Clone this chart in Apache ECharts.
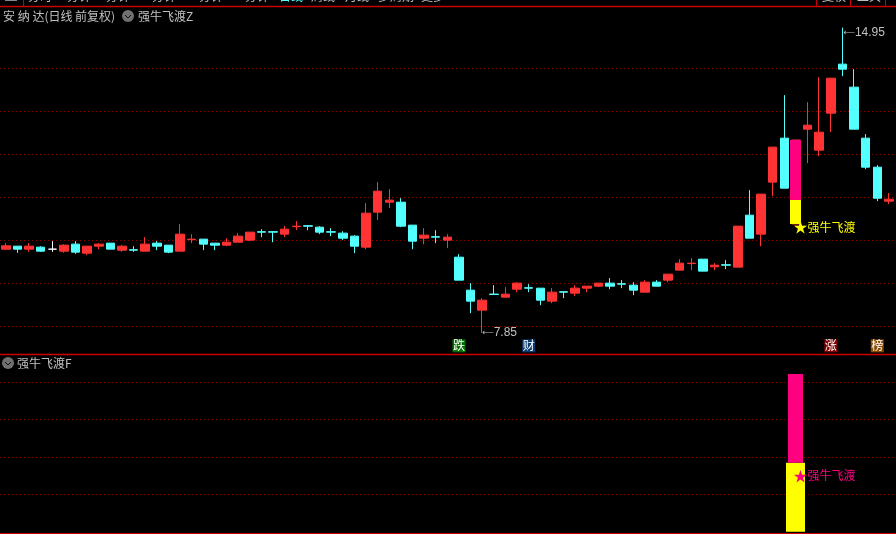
<!DOCTYPE html>
<html><head><meta charset="utf-8">
<style>html,body{margin:0;padding:0;background:#000}#c{width:896px;height:534px}</style>
<script src="https://cdn.jsdelivr.net/npm/echarts@6/dist/echarts.min.js"></script>
</head><body><div id="c"></div>
<script>
const opens = [9.798,9.868,9.798,9.845,9.798,9.752,9.915,9.705,9.868,9.938,9.775,9.785,9.752,9.938,9.891,9.752,10.021,10.031,9.938,9.891,9.961,10.008,10.204,10.204,10.147,10.323,
10.343,10.310,10.204,10.171,10.101,9.845,10.659,10.891,10.891,10.357,10.054,10.088,10.008,9.612,8.845,8.380,8.754,8.682,8.868,8.901,8.891,8.589,8.808,8.775,8.891,8.938,
9.008,8.994,8.961,8.798,9.031,9.078,9.310,9.463,9.566,9.388,9.436,9.380,10.589,10.147,11.357,12.380,10.384,12.589,12.101,12.961,14.101,13.566,12.380,11.705,10.915];
const closes = [9.876,9.798,9.868,9.752,9.798,9.891,9.729,9.868,9.915,9.798,9.868,9.775,9.915,9.868,9.729,10.147,10.031,9.915,9.891,9.961,10.101,10.194,10.194,10.194,10.264,10.333,
10.333,10.194,10.194,10.054,9.868,10.636,11.147,10.938,10.333,9.984,10.124,10.078,10.078,9.078,8.589,8.612,8.744,8.752,9.008,8.891,8.612,8.798,8.798,8.891,8.938,9.008,
8.938,8.984,8.845,9.031,8.938,9.217,9.473,9.473,9.287,9.426,9.426,10.333,10.054,11.078,12.171,11.217,12.337,12.682,12.519,13.775,13.984,12.589,11.705,10.984,10.961];
const lows = [9.775,9.713,9.736,9.736,9.736,9.713,9.690,9.659,9.798,9.798,9.736,9.736,9.752,9.775,9.705,9.752,9.938,9.775,9.775,9.868,9.961,9.985,10.078,9.961,10.078,10.240,
10.240,10.147,10.101,10.008,9.705,9.798,10.473,10.752,10.310,9.798,9.915,9.938,9.822,9.078,8.310,7.85,8.744,8.682,8.798,8.798,8.496,8.543,8.659,8.705,8.798,8.915,
8.868,8.891,8.729,8.798,8.938,9.031,9.310,9.310,9.287,9.310,9.333,9.380,10.054,9.868,11.031,11.217,10.384,11.798,11.961,12.519,13.822,12.589,11.659,10.915,10.845];
const highs = [9.938,9.868,9.938,9.868,9.985,9.915,9.985,9.868,9.938,9.938,9.891,9.868,10.078,9.985,9.891,10.380,10.147,10.031,9.938,10.054,10.171,10.194,10.264,10.217,10.333,10.450,
10.357,10.333,10.287,10.217,10.124,10.868,11.357,11.194,10.984,10.357,10.287,10.240,10.147,9.682,9.008,8.659,8.961,8.915,9.031,8.984,8.891,8.891,8.822,8.961,8.938,9.008,
9.124,9.078,9.031,9.078,9.078,9.217,9.566,9.589,9.566,9.473,9.543,10.333,11.171,11.078,12.171,13.380,12.337,13.217,13.798,13.775,14.95,13.984,12.473,11.752,11.101];
const categories = opens.map((_, i) => String(i + 1));
const priceTicks = [8, 9, 10, 11, 12, 13, 14];
const signalTicks = [1, 2, 3, 4];
const signalDay = 68;
const priceYellow = [10.384, 10.942];
const pricePink = [10.942, 12.337];
const signalYellow = [0, 1.84];
const signalPink = [1.84, 4.21];
const highLabel = '14.95';
const lowLabel = '7.85';
const signalName = '强牛飞渡';
const badges = [['跌', 39, '#007000'], ['财', 45, '#0a3a6e'], ['涨', 71, '#800000'], ['榜', 75, '#8a4a00']];
const tabs = [['分时',28],['分钟',67],['分钟',106],['分钟',152],['分钟',199],['分钟',245],['日线',279],['周线',311],['月线',345],['多周期',378],['更多',421],['复权',822],['工具',857]];

const RED = '#ff3333', CYAN = '#54ffff', GRID = '#8c0000', FRAME = '#cc0000', TXT = '#c0c0c0';
const FONT = '"Noto Sans CJK SC"';
const chart = echarts.init(document.getElementById('c'), null, {renderer: 'canvas'});

function stick(val, color, width) {
  return {
    type: 'custom', xAxisIndex: val.axis, yAxisIndex: val.axis, z: 5, clip: false,
    data: [[signalDay, val.range[0], val.range[1]]],
    encode: {x: 0, y: [1, 2]}, silent: true, animation: false,
    renderItem(params, api) {
      const a = api.coord([api.value(0), api.value(1)]);
      const b = api.coord([api.value(0), api.value(2)]);
      return {type: 'rect', shape: {x: Math.round(a[0] - width / 2), y: b[1], width, height: a[1] - b[1]}, style: {fill: color}};
    }
  };
}
function icon(x, y) {
  return [
    {type: 'circle', shape: {cx: x, cy: y, r: 6}, style: {fill: '#707070'}},
    {type: 'polyline', shape: {points: [[x - 3, y - 1], [x, y + 2], [x + 3, y - 1]]}, style: {stroke: '#111', lineWidth: 1, fill: null}}
  ];
}
function txt(x, y, text, color, size) {
  return {type: 'text', x, y, style: {text, fill: color || TXT, font: `${size || 12}px ${FONT}`, textVerticalAlign: 'middle'}};
}
function hline(y, x1, x2, w) {
  return {type: 'line', shape: {x1, y1: y, x2, y2: y}, style: {stroke: FRAME, lineWidth: w || 1}};
}
function vline(x, y2) {
  return {type: 'line', shape: {x1: x, y1: 0, x2: x, y2}, style: {stroke: FRAME, lineWidth: 1}};
}
const yAxisCommon = {
  scale: true, axisLine: {show: false}, axisLabel: {show: false},
  splitLine: {show: true, lineStyle: {color: GRID, type: [1, 3], width: 1}}
};
const xAxisCommon = {type: 'category', data: categories, boundaryGap: true, axisLine: {show: false}, axisTick: {show: false}, axisLabel: {show: false}, splitLine: {show: false}};

const yellowMain = stick({axis: 0, range: priceYellow}, '#ffff00', 11);
const pinkMain = stick({axis: 0, range: pricePink}, '#ff0080', 11);
const yellowSub = stick({axis: 1, range: signalYellow}, '#ffff00', 19);
const pinkSub = stick({axis: 1, range: signalPink}, '#ff0080', 15);

const sigLabel = color => ({
  show: true, position: 'right', distance: 0, offset: [-2.5, 0], color, fontSize: 12, fontFamily: FONT,
  formatter: '{s|★}{t|' + signalName + '}',
  rich: {s: {fontSize: 14, color, fontFamily: FONT}, t: {fontSize: 12, color, fontFamily: FONT}}
});
yellowMain.markPoint = {z: 8, silent: true, animation: false, data: [{coord: [signalDay, 10.314], symbol: 'circle', symbolSize: 0, label: sigLabel('#ffff00')}]};
pinkSub.markPoint = {z: 8, silent: true, animation: false, data: [{coord: [signalDay, 1.51], symbol: 'circle', symbolSize: 0, label: sigLabel('#ff0080')}]};

const priceLabel = (text, off) => ({
  show: true, position: 'right', distance: 0, offset: off, color: TXT, fontSize: 12, fontFamily: 'Liberation Sans',
  formatter: '{a|⟵}{b|' + text + '}',
  rich: {a: {fontFamily: 'DejaVu Sans', fontSize: 8, color: TXT}, b: {fontFamily: 'Liberation Sans', fontSize: 12, color: TXT}}
});

chart.setOption({
  backgroundColor: '#000', animation: false,
  grid: [
    {left: 0, width: 894.7, top: 7, height: 347},
    {left: 0, width: 894.7, top: 354, height: 179}
  ],
  xAxis: [Object.assign({gridIndex: 0}, xAxisCommon), Object.assign({gridIndex: 1}, xAxisCommon)],
  yAxis: [
    Object.assign({gridIndex: 0, min: 7.36, max: 15.43, axisTick: {show: false, customValues: priceTicks}}, yAxisCommon),
    Object.assign({gridIndex: 1, min: -0.03, max: 4.74, axisTick: {show: false, customValues: signalTicks}}, yAxisCommon)
  ],
  series: [
    {
      type: 'candlestick', xAxisIndex: 0, yAxisIndex: 0, barWidth: 9, z: 3, silent: true,
      data: opens.map((o, i) => [o, closes[i], lows[i], highs[i]]),
      itemStyle: {color: RED, color0: CYAN, borderColor: RED, borderColor0: CYAN, borderColorDoji: '#ffffff', borderWidth: 1},
      markPoint: {
        z: 6, silent: true, animation: false,
        data: [
          {coord: [72, 14.95], symbol: 'circle', symbolSize: 0, label: priceLabel(highLabel, [1, 5])},
          {coord: [41, 7.85], symbol: 'circle', symbolSize: 0, label: priceLabel(lowLabel, [0, 0])},
          ...badges.map(b => ({coord: [b[1], 7.55], symbol: 'rect', symbolSize: 13, itemStyle: {color: b[2]},
            label: {show: true, position: 'inside', color: '#fff', fontSize: 12, fontFamily: FONT, formatter: b[0]}}))
        ]
      }
    },
    yellowMain, pinkMain, yellowSub, pinkSub
  ],
  graphic: {elements: [
    hline(6.5, 0, 896, 1.5), hline(354.5, 0, 896, 1.5), hline(533.5, 0, 896, 1),
    vline(23.5, 6), vline(816.5, 6), vline(850.5, 6), vline(885.5, 6),
    {type: 'rect', shape: {x: 5, y: 0, width: 12, height: 1}, style: {fill: '#888'}},
    ...tabs.map(t => txt(t[1], -4, t[0], t[0] === '日线' ? '#54ffff' : TXT, 12)),
    txt(3, 16, '安 纳 达(日线 前复权)'),
    ...icon(128, 16),
    txt(138, 16, '强牛飞渡Z'),
    ...icon(8, 363),
    txt(17, 363, '强牛飞渡F')
  ]}
});
</script></body></html>
